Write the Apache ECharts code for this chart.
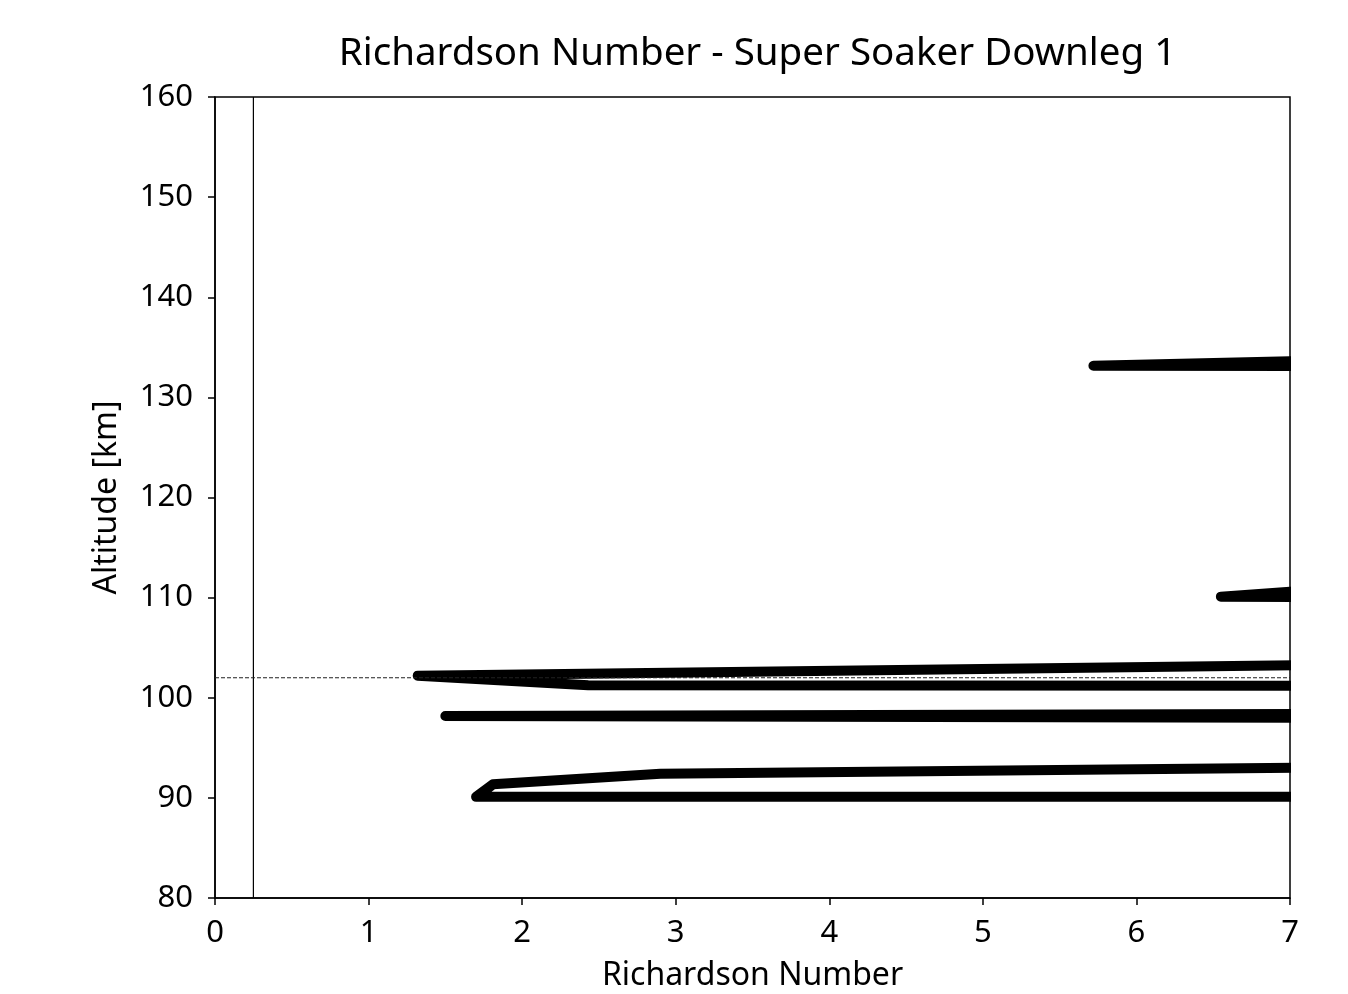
<!DOCTYPE html>
<html>
<head>
<meta charset="utf-8">
<script src="https://cdn.jsdelivr.net/npm/echarts@6/dist/echarts.min.js"></script>
<style>
    body { margin: 0; background: #fff; }
</style>
</head>
<body>
<div id="main" style="width: 1348px;height:994px;"></div>
<script type="text/javascript">
    // Richardson number profile (values past 7 run off the plot and get clipped)
    var riValues  = [8, 1.70, 1.81, 2.90, 8, 8, 1.50, 8, 8, 2.43, 1.32, 8, 8, 6.55, 7.0, 8, 8, 5.72, 7.0, 8];
    var altValues = [90.1, 90.1, 91.35, 92.4, 93.15, 97.98, 98.18, 98.4, 101.2, 101.25, 102.2, 103.43, 110.0, 110.08, 110.6, 111.8, 133.1, 133.15, 133.6, 134.0];

    var riCrit = [0.25, 0.25];          // vertical reference line
    var riCritAlt = [80, 160];
    var refAlt = [102, 102];             // dashed horizontal line
    var refAltRi = [0, 7];

    var xTicks = [0, 7, 1];   // min, max, step
    var yTicks = [80, 160, 10];

    function pairs(xs, ys) {
        return xs.map(function (x, i) { return [x, ys[i]]; });
    }

    var font = '"Noto Sans", "DejaVu Sans", sans-serif';
    var W = 1348, H = 994;
    var gLeft = 215, gRight = 58, gTop = 97, gBottom = 96;
    var plotW = W - gLeft - gRight;

    var myChart = echarts.init(document.getElementById('main'));
    var option = {
        animation: false,
        title: {
            text: 'Richardson Number - Super Soaker Downleg 1',
            left: gLeft + plotW / 2,
            textAlign: 'center',
            top: 30,
            textStyle: { fontFamily: font, fontSize: 38.5, fontWeight: 'normal', color: '#000' }
        },
        grid: {
            left: gLeft, right: gRight, top: gTop, bottom: gBottom,
            show: true, borderColor: '#000', borderWidth: 1.5,
            containLabel: false,
            outerBoundsMode: 'none'
        },
        // hide the half line-width that ECharts lets past the clip edge
        graphic: [{
            type: 'rect',
            shape: { x: gLeft + plotW + 1, y: gTop - 10, width: 20, height: H - gTop - gBottom + 20 },
            style: { fill: '#fff' },
            z: 50
        }],
        xAxis: {
            type: 'value',
            min: xTicks[0], max: xTicks[1], interval: xTicks[2],
            name: 'Richardson Number',
            nameLocation: 'middle',
            nameGap: 62,
            nameTextStyle: { fontFamily: font, fontSize: 32, color: '#000' },
            axisLine: { show: true, lineStyle: { color: '#000', width: 1.5 } },
            axisTick: { show: true, length: 7, lineStyle: { color: '#000', width: 1.5 } },
            axisLabel: { fontFamily: font, fontSize: 31, color: '#000', margin: 20 },
            splitLine: { show: false }
        },
        yAxis: {
            type: 'value',
            min: yTicks[0], max: yTicks[1], interval: yTicks[2],
            name: 'Altitude [km]',
            nameLocation: 'middle',
            nameRotate: 90,
            nameGap: 92,
            nameTextStyle: { fontFamily: font, fontSize: 32, color: '#000' },
            axisLine: { show: true, lineStyle: { color: '#000', width: 1.5 } },
            axisTick: { show: true, length: 7, lineStyle: { color: '#000', width: 1.5 } },
            axisLabel: { fontFamily: font, fontSize: 31, color: '#000', margin: 22 },
            splitLine: { show: false }
        },
        series: [
            {
                type: 'line',
                data: pairs(riCrit, riCritAlt),
                showSymbol: false,
                lineStyle: { color: '#000', width: 1.2 },
                z: 1
            },
            {
                type: 'line',
                data: pairs(refAltRi, refAlt),
                showSymbol: false,
                lineStyle: { color: '#222', width: 1.2, type: [4, 2] },
                z: 3
            },
            {
                type: 'line',
                data: pairs(riValues, altValues),
                showSymbol: false,
                clip: true,
                lineStyle: { color: '#000', width: 10, join: 'round', cap: 'round' },
                z: 2
            }
        ]
    };
    myChart.setOption(option);
</script>
</body>
</html>
